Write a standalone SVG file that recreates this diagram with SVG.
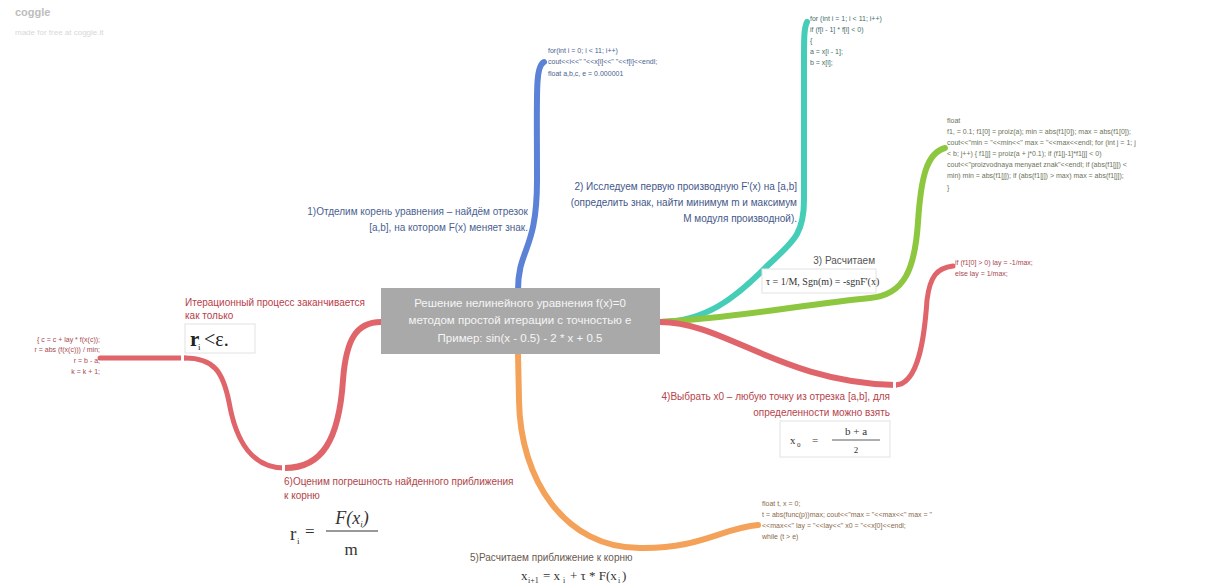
<svg xmlns="http://www.w3.org/2000/svg" width="1211" height="588" viewBox="0 0 1211 588">
<style>
text{font-family:"Liberation Sans",Arial,sans-serif}
.lbl{font-size:10px}
.code{font-size:7px}
.math text,text.math{font-family:"Liberation Serif","Times New Roman",serif}
.br{fill:none;stroke-linecap:round;stroke-linejoin:round}
.fbox{fill:#fff;stroke:#e2e2e2;stroke-width:1}
</style>
<rect width="1211" height="588" fill="#fff"/>
<g id="watermark">
<text x="15" y="16" font-size="11" fill="#bdbdbd" font-weight="bold">coggle</text>
<text x="15" y="35" font-size="8" fill="#d8d8d8">made for free at coggle.it</text>
</g>
<g id="connectors">
<path class="br" stroke="#5b82d6" stroke-width="6" d="M518,290 C518,248 537,252 537,180 C537,92 535,66 544,62"/>
<path class="br" stroke="#45cdb8" stroke-width="6" d="M660,322 C705,322 735,298 765,268 C792,242 804,236 804,200 L804,62 C804,38 804,28 807,22"/>
<path class="br" stroke="#8dc63f" stroke-width="6" d="M660,322 C740,318 805,304 870,298 C905,295 915,268 918,222 C921,176 927,153 945,148"/>
<path class="br" stroke="#e0656b" stroke-width="6" d="M660,322 C725,322 780,382 895,385"/>
<path class="br" stroke="#e0656b" stroke-width="5" d="M895,385 C920,385 925,330 927,300 C930,276 937,268 953,266"/>
<path class="br" stroke="#f4a259" stroke-width="6" d="M518,353 L519,400 C520,480 565,548 640,548 C700,549 722,528 758,525"/>
<path class="br" stroke="#e0656b" stroke-width="6" d="M381,322 C356,322 346,340 343,380 C339,440 322,468 285,468"/>
<path class="br" stroke="#e0656b" stroke-width="5" d="M285,468 C252,468 236,442 229,402 C223,372 214,358 185,358"/>
<path class="br" stroke="#e0656b" stroke-width="5" d="M185,358 L100,358"/>
<g fill="#fff">
<rect x="181" y="353" width="3" height="10"/>
<rect x="893" y="380" width="3" height="10"/>
<rect x="282" y="463" width="3" height="10"/>
</g>
</g>
<g id="center">
<rect x="381" y="288" width="279" height="66" fill="#a9a9a9"/>
<g font-size="11.5" fill="#f5f5f5" text-anchor="middle">
<text x="520" y="307">Решение нелинейного уравнения f(x)=0</text>
<text x="520" y="324">методом простой итерации с точностью e</text>
<text x="520" y="342">Пример: sin(x - 0.5) - 2 * x + 0.5</text>
</g>
</g>
<g id="n1">
<g class="lbl" fill="#4b5f92" text-anchor="end">
<text x="528" y="215">1)Отделим корень уравнения – найдём отрезок</text>
<text x="528" y="231">[a,b], на котором F(x) меняет знак.</text>
</g>
</g>
<g id="n1c">
<g class="code" fill="#4b5f92">
<text x="548" y="53">for(int i = 0; i &lt; 11; i++)</text>
<text x="548" y="64">cout&lt;&lt;i&lt;&lt;" "&lt;&lt;x[i]&lt;&lt;" "&lt;&lt;f[i]&lt;&lt;endl;</text>
<text x="548" y="76">float a,b,c, e = 0.000001</text>
</g>
</g>
<g id="n2">
<g class="lbl" fill="#44588a" text-anchor="end">
<text x="797" y="190">2) Исследуем первую производную F'(x) на [a,b]</text>
<text x="797" y="206">(определить знак, найти минимум m и максимум</text>
<text x="797" y="222">M модуля производной).</text>
</g>
</g>
<g id="n2c">
<g class="code" fill="#3f6f6a">
<text x="810" y="21">for (int i = 1; i &lt; 11; i++)</text>
<text x="810" y="32">if (f[i - 1] * f[i] &lt; 0)</text>
<text x="810" y="43">{</text>
<text x="810" y="54">a = x[i - 1];</text>
<text x="810" y="65">b = x[i];</text>
</g>
</g>
<g id="n3">
<text class="lbl" x="875" y="264" fill="#555" text-anchor="end">3) Расчитаем</text>
<rect class="fbox" x="762" y="269" width="114" height="24"/>
<text class="math" x="766" y="285" font-size="10" fill="#333">τ = 1/M, Sgn(m) = -sgnF'(x)</text>
</g>
<g id="n3c">
<g class="code" fill="#6a745a">
<text x="947" y="123">float</text>
<text x="947" y="134">f1, = 0.1; f1[0] = proiz(a); min = abs(f1[0]); max = abs(f1[0]);</text>
<text x="947" y="145">cout&lt;&lt;"min = "&lt;&lt;min&lt;&lt;" max = "&lt;&lt;max&lt;&lt;endl; for (int j = 1; j</text>
<text x="947" y="156">&lt; b; j++) { f1[j] = proiz(a + j*0.1); if (f1[j-1]*f1[j] &lt; 0)</text>
<text x="947" y="167">cout&lt;&lt;"proizvodnaya menyaet znak"&lt;&lt;endl; if (abs(f1[j]) &lt;</text>
<text x="947" y="178">min) min = abs(f1[j]); if (abs(f1[j]) &gt; max) max = abs(f1[j]);</text>
<text x="947" y="190">}</text>
</g>
</g>
<g id="n4">
<g class="lbl" fill="#b5434b" text-anchor="end">
<text x="890" y="400">4)Выбрать x0 – любую точку из отрезка [a,b], для</text>
<text x="890" y="416">определенности можно взять</text>
</g>
<rect class="fbox" x="780" y="421" width="110" height="36"/>
<g class="math" fill="#333" font-size="11">
<text x="790" y="444">x</text>
<text x="797" y="447" font-size="7">0</text>
<text x="812" y="444">=</text>
<text x="856" y="435" text-anchor="middle">b  +  a</text>
<line x1="832" y1="440" x2="880" y2="440" stroke="#333" stroke-width="0.8"/>
<text x="856" y="453" text-anchor="middle" font-size="9">2</text>
</g>
</g>
<g id="n4c">
<g class="code" fill="#a8484e">
<text x="955" y="265">if (f1[0] &gt; 0) lay = -1/max;</text>
<text x="955" y="276">else lay = 1/max;</text>
</g>
</g>
<g id="n5">
<text class="lbl" x="470" y="561" fill="#6a5a50">5)Расчитаем приближение к корню</text>
<g class="math" fill="#333" font-size="13">
<text x="521" y="580">x</text>
<text x="528" y="583" font-size="8">i+1</text>
<text x="543" y="580">= x</text>
<text x="563" y="583" font-size="8">i</text>
<text x="570" y="580">+ τ * F(x</text>
<text x="618" y="583" font-size="8">i</text>
<text x="622" y="580">)</text>
</g>
</g>
<g id="n5c">
<g class="code" fill="#8a6a48">
<text x="762" y="506">float t, x = 0;</text>
<text x="762" y="517">t = abs(func(p))max; cout&lt;&lt;"max = "&lt;&lt;max&lt;&lt;" max = "</text>
<text x="762" y="528">&lt;&lt;max&lt;&lt;" lay = "&lt;&lt;lay&lt;&lt;" x0 = "&lt;&lt;x[0]&lt;&lt;endl;</text>
<text x="762" y="539">while (t &gt; e)</text>
</g>
</g>
<g id="n6">
<g class="lbl" fill="#b04448">
<text x="284" y="485">6)Оценим погрешность найденного приближения</text>
<text x="284" y="499">к корню</text>
</g>
<g class="math" fill="#333">
<text x="290" y="540" font-size="19">r</text>
<text x="297" y="544" font-size="9">i</text>
<text x="305" y="537" font-size="17">=</text>
<text x="352" y="524" font-size="18" font-style="italic" text-anchor="middle">F(x<tspan font-size="9" dy="3">i</tspan><tspan dy="-3">)</tspan></text>
<line x1="326" y1="531" x2="378" y2="531" stroke="#333" stroke-width="1"/>
<text x="351" y="555" font-size="17" text-anchor="middle">m</text>
</g>
</g>
<g id="n7">
<g class="lbl" fill="#b8404a" font-size="9">
<text x="185" y="306">Итерационный процесс заканчивается</text>
<text x="185" y="319">как только</text>
</g>
<rect class="fbox" x="185" y="324" width="70" height="29"/>
<g class="math" fill="#222">
<text x="190" y="346" font-size="21" font-weight="bold">r</text>
<text x="198" y="350" font-size="9">i</text>
<text x="204" y="346" font-size="20">&lt;ε.</text>
</g>
</g>
<g id="n8">
<g class="code" fill="#a8484e" text-anchor="end">
<text x="100" y="342">{ c = c + lay * f(x(c));</text>
<text x="100" y="352">r = abs (f(x(c))) / min;</text>
<text x="100" y="363">r = b - a;</text>
<text x="100" y="374">k = k + 1;</text>
</g>
</g>
</svg>
